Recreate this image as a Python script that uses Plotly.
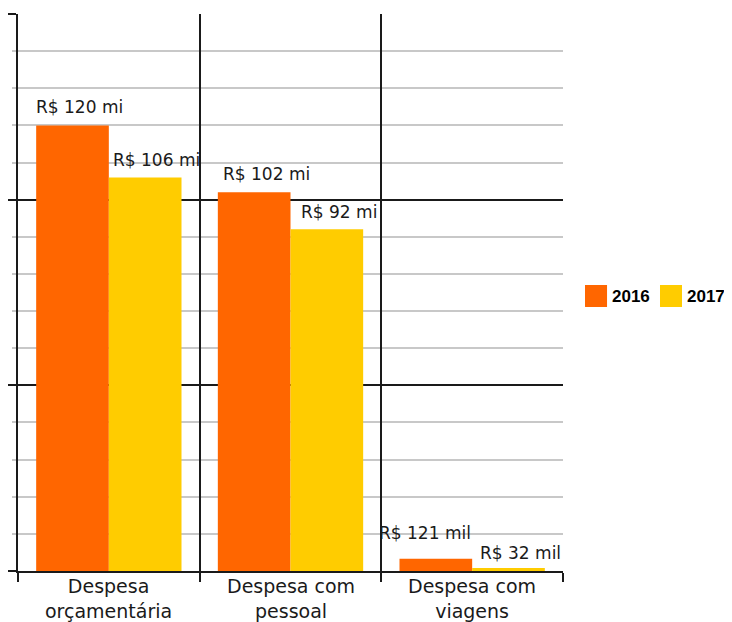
import plotly.graph_objects as go

categories = ["Despesa<br>orçamentária", "Despesa com<br>pessoal", "Despesa com<br>viagens"]
years = ["2016", "2017"]
values_2016 = [120, 102, 3.3]
values_2017 = [106, 92, 0.8]
labels_2016 = ["R$ 120 mi", "R$ 102 mi", "R$ 121 mil"]
labels_2017 = ["R$ 106 mi", "R$ 92 mi", "R$ 32 mil"]

colors = {"2016": "#FF6600", "2017": "#FFCC00"}
FONT = "DejaVu Sans"
TXT = "#1a1a1a"

fig = go.Figure()
for yr, vals in zip(years, [values_2016, values_2017]):
    fig.add_trace(go.Bar(x=categories, y=vals, name=yr, marker_color=colors[yr],
                         marker_line_width=0, showlegend=False))

# value labels (pixel offsets relative to bar centre)
shift_2016 = [(7, 6), (12, 6), (-11, 14)]
shift_2017 = [(12, 5), (12, 5), (12, 3)]
for labels, vals, shifts, off in [(labels_2016, values_2016, shift_2016, -36),
                                  (labels_2017, values_2017, shift_2017, 36)]:
    for c, v, t, (dx, dy) in zip(categories, vals, labels, shifts):
        fig.add_annotation(x=c, y=v, text=t, showarrow=False, xanchor="center",
                           yanchor="bottom", xshift=off + dx, yshift=dy,
                           font=dict(family=FONT, size=17, color=TXT))

# category labels
for c in categories:
    fig.add_annotation(x=c, y=0, text=c, showarrow=False, xanchor="center",
                       yanchor="middle", yshift=-27,
                       font=dict(family=FONT, size=19, color=TXT))

# legend (large swatches)
leg_x = [1.0404, 1.178]
for yr, lx in zip(years, leg_x):
    fig.add_shape(type="rect", xref="paper", yref="paper", x0=lx, x1=lx + 0.0404,
                  y0=0.474, y1=0.5135, fillcolor=colors[yr], line_width=0)
    fig.add_annotation(xref="paper", yref="paper", x=lx + 0.046, y=0.4937, text=yr,
                       showarrow=False, xanchor="left", yanchor="middle",
                       font=dict(family="Liberation Sans", size=17, color="black",
                                 weight="bold"))

fig.update_layout(
    width=724, height=614,
    margin=dict(l=10, r=169, t=6, b=51, autoexpand=False),
    paper_bgcolor="white", plot_bgcolor="white",
    barmode="group", bargap=0.2, bargroupgap=0,
    font=dict(family=FONT, color=TXT),
    showlegend=False,
)
fig.update_yaxes(range=[0, 150], dtick=50, showticklabels=False, automargin=False,
                 showgrid=True, gridcolor=TXT, gridwidth=1.5,
                 ticks="outside", ticklen=8, tickcolor=TXT, tickwidth=1.5,
                 showline=True, linecolor=TXT, linewidth=2,
                 zeroline=False,
                 minor=dict(dtick=10, showgrid=True, gridcolor="#c8c8c8", gridwidth=1.5,
                            ticks="outside", ticklen=4, tickcolor="#c8c8c8"))
fig.update_xaxes(tickson="boundaries", showgrid=True, gridcolor=TXT, gridwidth=1.5,
                 automargin=False, showticklabels=False,
                 ticks="outside", ticklen=9, tickcolor=TXT, tickwidth=1.5,
                 showline=True, linecolor=TXT, linewidth=2)

fig.write_html("out.html")
